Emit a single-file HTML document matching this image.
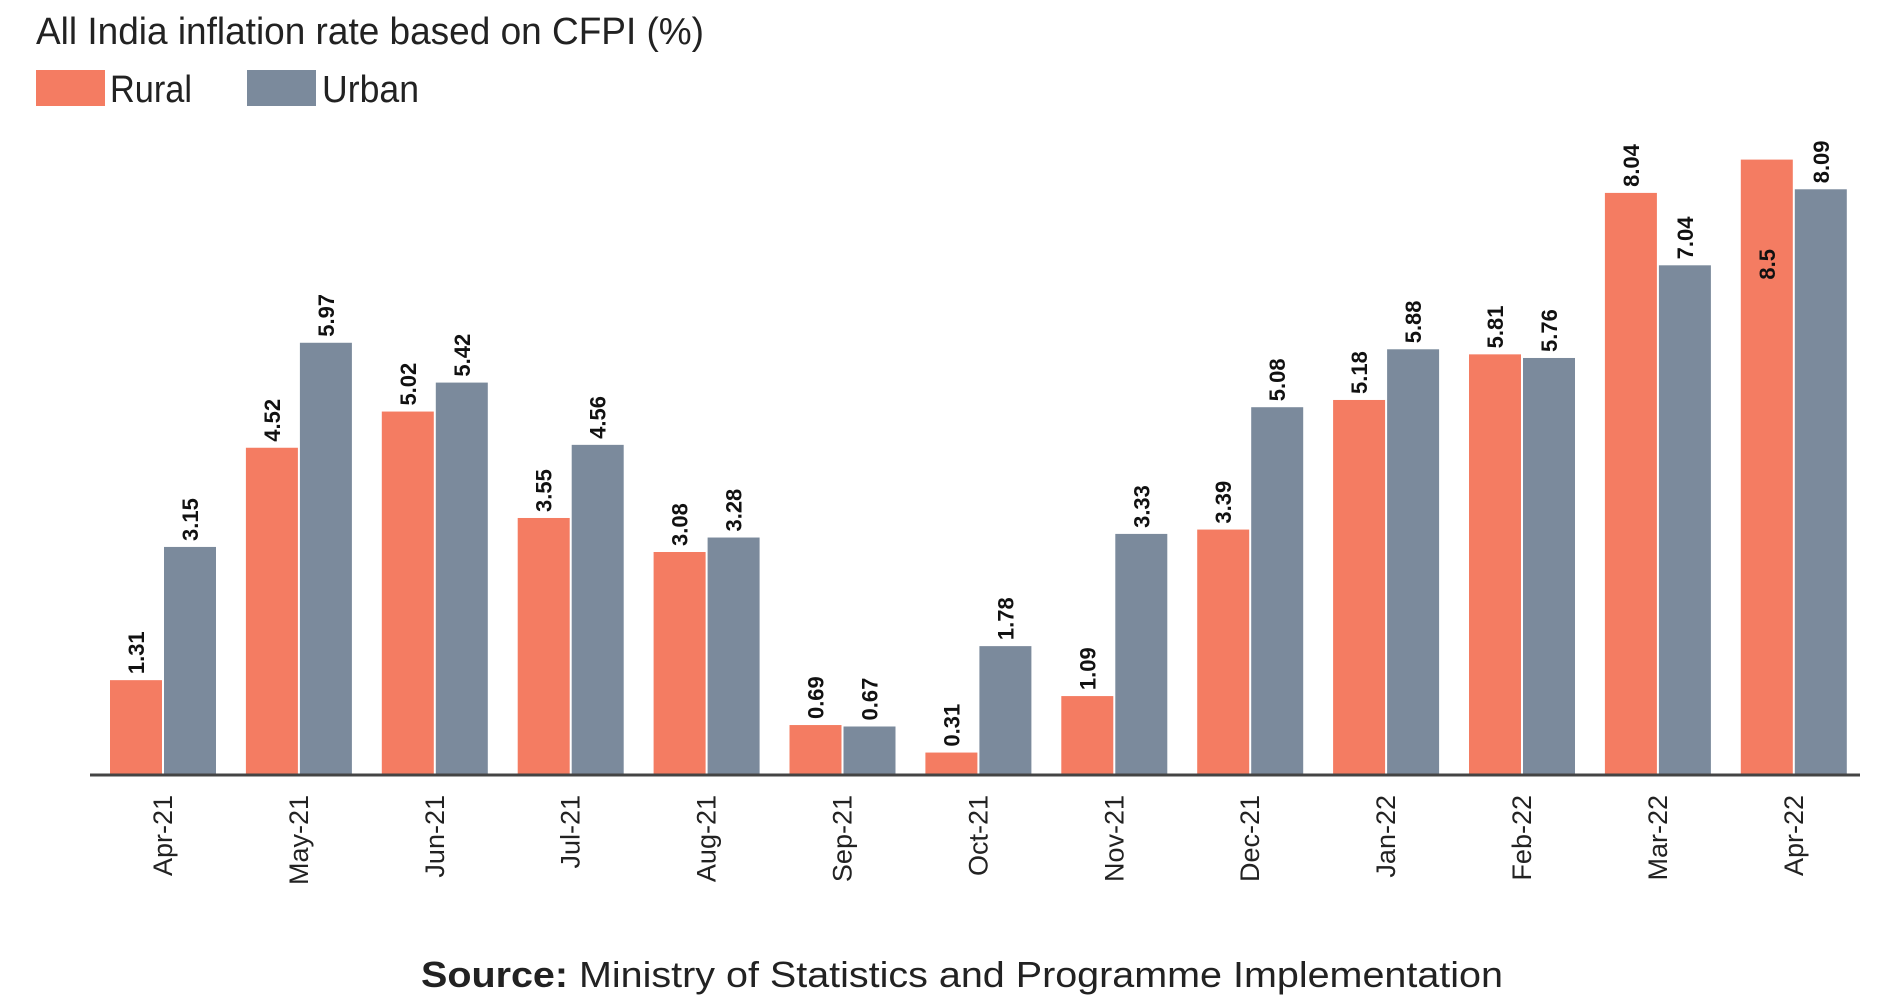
<!DOCTYPE html>
<html><head><meta charset="utf-8"><style>
html,body{margin:0;padding:0;background:#fff;}
svg{display:block;font-family:"Liberation Sans Narrow","Liberation Sans",sans-serif;}
</style></head><body>
<svg id="chart" width="1878" height="1006" viewBox="0 0 1878 1006" xmlns="http://www.w3.org/2000/svg">
<text x="36" y="44" font-size="38" fill="#222" textLength="668" lengthAdjust="spacingAndGlyphs">All India inflation rate based on CFPI (%)</text>
<g>
<rect x="36" y="70" width="69" height="36" fill="#f47c62"/>
<text x="110" y="102" font-size="38" fill="#222" textLength="82" lengthAdjust="spacingAndGlyphs">Rural</text>
<rect x="247" y="70" width="69" height="36" fill="#7b8a9c"/>
<text x="322" y="102" font-size="38" fill="#222" textLength="97" lengthAdjust="spacingAndGlyphs">Urban</text>
</g>
<g id="bars"></g>
<line x1="90" y1="775" x2="1860" y2="775" stroke="#444" stroke-width="3"/>
<text x="421" y="987" font-size="36" fill="#222" textLength="1082" lengthAdjust="spacingAndGlyphs"><tspan font-weight="bold">Source:</tspan> Ministry of Statistics and Programme Implementation</text>
</svg>
<script>
const categories = ["Apr-21","May-21","Jun-21","Jul-21","Aug-21","Sep-21","Oct-21","Nov-21","Dec-21","Jan-22","Feb-22","Mar-22","Apr-22"];
const rural = [1.31,4.52,5.02,3.55,3.08,0.69,0.31,1.09,3.39,5.18,5.81,8.04,8.5];
const urban = [3.15,5.97,5.42,4.56,3.28,0.67,1.78,3.33,5.08,5.88,5.76,7.04,8.09];
const ruralLabels = ["1.31","4.52","5.02","3.55","3.08","0.69","0.31","1.09","3.39","5.18","5.81","8.04","8.5"];
const urbanLabels = ["3.15","5.97","5.42","4.56","3.28","0.67","1.78","3.33","5.08","5.88","5.76","7.04","8.09"];

const NS = "http://www.w3.org/2000/svg";
const g = document.getElementById("bars");
const base = 775, unit = 72.4, x0 = 110, step = 135.9, bw = 52;
function xScale(i, s){ return x0 + i*step + s*(bw+2); }
function yScale(v){ return base - v*unit; }
function mk(tag, attrs){ const e=document.createElementNS(NS,tag); for(const k in attrs) e.setAttribute(k,attrs[k]); return e; }

categories.forEach((c,i)=>{
  [[rural,ruralLabels,"#f47c62","rural"],[urban,urbanLabels,"#7b8a9c","urban"]].forEach((s,si)=>{
    const v=s[0][i], x=xScale(i,si), y=yScale(v);
    const r=mk("rect",{x:x,y:y,width:bw,height:base-y,fill:s[2]});
    
    
    g.appendChild(r);
    const inside = (si===0 && i===categories.length-1);
    const cx=x+bw/2+8, ty= inside ? y+120 : y-6;
    const t=mk("text",{x:cx,y:ty,"font-size":22,"font-weight":"bold",fill:"#111",transform:"rotate(-90 "+cx+" "+ty+")"});
    t.textContent=s[1][i];
    
    
    g.appendChild(t);
  });
  const lx = xScale(i,0)+bw+10, ly=795;
  const t=mk("text",{x:lx,y:ly,"font-size":27,fill:"#222","text-anchor":"end",transform:"rotate(-90 "+lx+" "+ly+")"});
  t.textContent=c;
  
  
  g.appendChild(t);
});
</script>
</body></html>
